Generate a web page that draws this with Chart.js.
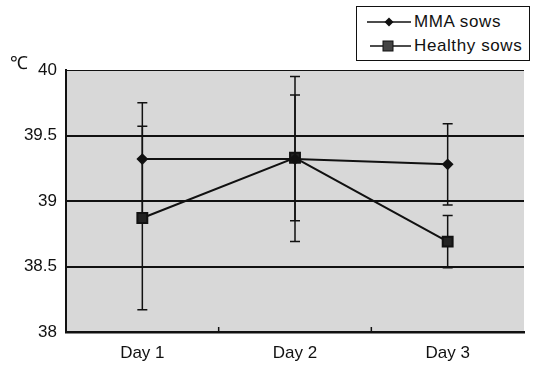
<!DOCTYPE html>
<html lang="en">
<head>
  <meta charset="UTF-8">
  <title>Rectal temperature</title>
  <script src="https://cdn.jsdelivr.net/npm/chart.js"></script>
  <style>
    body { margin: 0; background: #fff; font-family: "Liberation Sans", Arial, sans-serif; }
    #wrap { position: relative; width: 533px; height: 365px; }
    #unit { position: absolute; left: 10px; top: 50px; font-size: 18px; color: #111; }
    #legend {
      position: absolute; left: 356px; top: 6px; width: 172px; height: 53px;
      border: 1.5px solid #111; background: #fff; font-size: 17px; color: #111;
    }
    .row { position: absolute; left: 10px; height: 20px; display: flex; align-items: center; }
    .row span { margin-left: 3px; letter-spacing: 0.6px; }
  </style>
</head>
<body>
  <div id="wrap">
    <canvas id="chart" width="533" height="365"></canvas>
    <div id="unit">℃</div>
    <div id="legend">
      <div class="row" style="top:5px">
        <svg width="44" height="12"><line x1="0" y1="6" x2="44" y2="6" stroke="#111" stroke-width="1.5"/><polygon points="22,1.5 26.5,6 22,10.5 17.5,6" fill="#111"/></svg>
        <span>MMA sows</span>
      </div>
      <div class="row" style="top:29px">
        <svg width="44" height="12"><line x1="3" y1="6" x2="44" y2="6" stroke="#111" stroke-width="1.5"/><rect x="16" y="1" width="10" height="10" fill="#444" stroke="#111"/></svg>
        <span>Healthy sows</span>
      </div>
    </div>
  </div>

  <script>
    const days = ['Day 1', 'Day 2', 'Day 3'];
    const mmaMean = [39.32, 39.32, 39.28];
    const mmaSd = [0.43, 0.63, 0.31];
    const healthyMean = [38.87, 39.33, 38.69];
    const healthySd = [0.70, 0.48, 0.20];
    const yTicks = [38, 38.5, 39, 39.5, 40];

    const fontFamily = '"Liberation Sans", Arial, sans-serif';

    // grey plot background
    const plotBg = {
      id: 'plotBg',
      beforeDraw(chart) {
        const { ctx, chartArea: a } = chart;
        ctx.save();
        ctx.fillStyle = '#d8d8d8';
        ctx.fillRect(a.left, a.top, a.right - a.left, a.bottom - a.top);
        ctx.restore();
      }
    };

    // error bars + small x ticks between days
    const errorBars = {
      id: 'errorBars',
      beforeDatasetsDraw(chart) {
        const { ctx, scales: { x, y }, chartArea: a } = chart;
        ctx.save();
        ctx.strokeStyle = '#111';
        ctx.lineWidth = 1.5;
        const sets = [[mmaMean, mmaSd], [healthyMean, healthySd]];
        sets.forEach(([mean, sd]) => {
          mean.forEach((m, i) => {
            const px = x.getPixelForValue(i);
            const hi = y.getPixelForValue(m + sd[i]);
            const lo = y.getPixelForValue(m - sd[i]);
            ctx.beginPath();
            ctx.moveTo(px, hi); ctx.lineTo(px, lo);
            ctx.moveTo(px - 5, hi); ctx.lineTo(px + 5, hi);
            ctx.moveTo(px - 5, lo); ctx.lineTo(px + 5, lo);
            ctx.stroke();
          });
        });
        for (let i = 0; i < days.length - 1; i++) {
          const px = (x.getPixelForValue(i) + x.getPixelForValue(i + 1)) / 2;
          ctx.beginPath();
          ctx.moveTo(px, a.bottom); ctx.lineTo(px, a.bottom - 5);
          ctx.stroke();
        }
        ctx.restore();
      }
    };

    new Chart(document.getElementById('chart'), {
      type: 'line',
      data: {
        labels: days,
        datasets: [{
          label: 'MMA sows',
          data: mmaMean,
          borderColor: '#111',
          backgroundColor: '#111',
          borderWidth: 2,
          pointStyle: 'rectRot',
          pointRadius: 4.5,
          tension: 0
        }, {
          label: 'Healthy sows',
          data: healthyMean,
          borderColor: '#111',
          backgroundColor: '#222',
          borderWidth: 2,
          pointStyle: 'rect',
          pointRadius: 7,
          tension: 0
        }]
      },
      options: {
        responsive: false,
        animation: false,
        layout: { padding: { top: 70, left: 0, right: 0, bottom: 0 } },
        plugins: { legend: { display: false }, tooltip: { enabled: false } },
        scales: {
          x: {
            offset: true,
            grid: { display: false },
            border: { display: true, color: '#111', width: 2.5 },
            ticks: { color: '#111', padding: 3, font: { family: fontFamily, size: 17 } },
            afterFit(s) { s.height = 33; }
          },
          y: {
            min: 38,
            max: 40,
            afterBuildTicks(s) { s.ticks = yTicks.map(v => ({ value: v })); },
            grid: {
              color: '#111',
              lineWidth: c => (c.tick && c.tick.value === 40 ? 1 : 2),
              drawTicks: false
            },
            border: { display: true, color: '#111', width: 2 },
            ticks: {
              color: '#111', padding: 9, font: { family: fontFamily, size: 17 },
              callback: v => String(v)
            },
            afterFit(s) { s.width = 66; }
          }
        }
      },
      plugins: [plotBg, errorBars]
    });
  </script>
</body>
</html>
